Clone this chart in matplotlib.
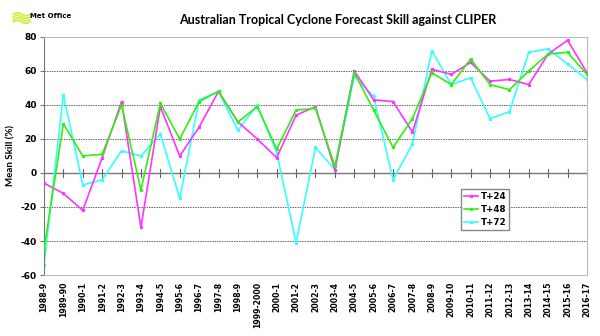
import matplotlib
matplotlib.use("Agg")
import matplotlib.pyplot as plt
import numpy as np

# seasons on the x axis
seasons = ["1988-9", "1989-90", "1990-1", "1991-2", "1992-3", "1993-4", "1994-5",
           "1995-6", "1996-7", "1997-8", "1998-9", "1999-2000", "2000-1", "2001-2",
           "2002-3", "2003-4", "2004-5", "2005-6", "2006-7", "2007-8", "2008-9",
           "2009-10", "2010-11", "2011-12", "2012-13", "2013-14", "2014-15",
           "2015-16", "2016-17"]

# mean skill (%) per lead time
t24 = [-6, -12, -22, 9, 42, -32, 39, 10, 27, 48, 30, 20, 9, 34, 39, 2,
       60, 43, 42, 24, 61, 58, 65, 54, 55, 52, 70, 78, 59]
t48 = [-45, 29, 10, 11, 40, -10, 41, 20, 42, 48, 30, 39, 14, 37, 38, 4,
       59, 37, 15, 32, 59, 52, 67, 52, 49, 60, 70, 71, 58]
t72 = [-54, 46, -7, -4, 13, 10, 23, -15, 43, 48, 25, 40, 12, -41, 15, 2,
       57, 45, -4, 17, 72, 52, 56, 32, 36, 71, 73, 64, 55]

fig = plt.figure(figsize=(6, 3.36), dpi=100)
ax = fig.add_axes([0.0733, 0.1815, 0.905, 0.7085])

x = np.arange(len(seasons))
ax.plot(x, t24, color="#ff33ff", lw=1.2, marker="s", ms=1.3, label="T+24", zorder=3)
ax.plot(x, t48, color="#33ee11", lw=1.2, marker="s", ms=1.3, label="T+48", zorder=4)
ax.plot(x, t72, color="#33ffff", lw=1.2, marker="s", ms=1.3, label="T+72", zorder=2)

ax.set_xlim(0, len(seasons) - 1)
ax.set_ylim(-60, 80)
ax.set_yticks(np.arange(-60, 81, 20))
ax.set_yticklabels([str(v) for v in range(-60, 81, 20)], fontsize=6.5, fontweight="bold",
                   family="DejaVu Sans")
for v in range(-40, 81, 20):
    if v != 0:
        ax.axhline(v, color="#666666", lw=0.7, ls=(0, (1.5, 1)), zorder=1)
ax.axhline(0, color="#777777", lw=1.0, zorder=1)

# category ticks sit on the zero line, labels at the bottom
ax.set_xticks(x)
ax.tick_params(axis="x", length=0, pad=5)
ax.set_xticklabels(seasons, rotation=90, fontsize=5.6, fontweight="bold",
                   family="DejaVu Sans")
for xi in x:
    ax.plot([xi, xi], [-2.2, 2.2], color="#666666", lw=0.8, zorder=1, clip_on=False)
ax.tick_params(axis="y", length=3, color="#777777", pad=2)

for side in ["top", "right", "bottom"]:
    ax.spines[side].set_color("#bbbbbb")
    ax.spines[side].set_linewidth(0.8)
ax.spines["left"].set_color("#777777")

ax.set_ylabel("Mean Skill (%)", fontsize=7, family="Lato", fontweight="bold", labelpad=4)

fig.text(0.562, 0.94, "Australian Tropical Cyclone Forecast Skill against CLIPER",
         ha="center", va="center", fontsize=9, family="Lato", fontweight="bold")

# Met Office logo
for k in range(4):
    xs = np.linspace(0.022, 0.05, 20)
    ys = 0.935 + k * 0.0075 + 0.004 * np.sin((xs - 0.022) * 220)
    fig.lines.append(plt.Line2D(xs, ys, transform=fig.transFigure, color="#ccee33", lw=1.2))
fig.text(0.05, 0.952, "Met Office", fontsize=5, fontweight="bold", va="center",
         family="DejaVu Sans")

leg = ax.legend(loc="upper left", bbox_to_anchor=(0.768, 0.36),
                prop={"weight": "bold", "size": 6.3}, handlelength=1.6, handletextpad=0.3,
                borderpad=0.35, labelspacing=0.45, fancybox=False, framealpha=1,
                edgecolor="#888888", borderaxespad=0)

fig.savefig("out.png", dpi=100)
